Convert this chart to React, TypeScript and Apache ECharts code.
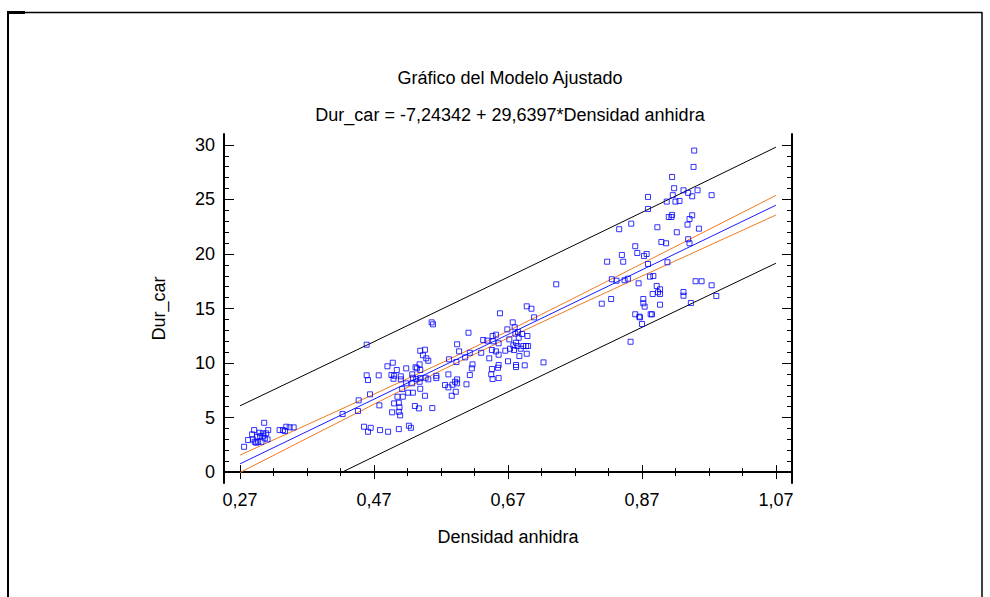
import React, { useEffect, useRef } from "react";
import * as echarts from "echarts";

// Fitted model: Dur_car = INTERCEPT + SLOPE * Densidad anhidra
const INTERCEPT = -7.24342;
const SLOPE = 29.6397;

// Axis ranges and tick positions
const X_MIN = 0.246;
const X_MAX = 1.094;
const Y_MIN = -1;
const Y_MAX = 31;
const X_MAJOR = [0.27, 0.47, 0.67, 0.87, 1.07];
const X_MINOR = [0.32, 0.37, 0.42, 0.52, 0.57, 0.62, 0.72, 0.77, 0.82, 0.92, 0.97, 1.02];
const Y_MAJOR = [0, 5, 10, 15, 20, 25, 30];
const Y_MINOR = [1, 2, 3, 4, 6, 7, 8, 9, 11, 12, 13, 14, 16, 17, 18, 19, 21, 22, 23, 24, 26, 27, 28, 29];

// Band half-widths (confidence for the mean, prediction for new observations)
const BAND_X = [0.27, 0.37, 0.47, 0.57, 0.67, 0.77, 0.87, 0.97, 1.07];
const CONF_HW = [0.8, 0.62, 0.46, 0.34, 0.32, 0.42, 0.57, 0.74, 0.9];
const PRED_HW = [5.32, 5.29, 5.27, 5.26, 5.26, 5.26, 5.27, 5.29, 5.32];

// Observations: [Densidad anhidra, Dur_car]
const OBS_LOW: number[][] = [
  [0.306, 4.52], [0.291, 3.85], [0.288, 3.46], [0.299, 3.61], [0.304, 3.55], [0.309, 3.55],
  [0.312, 3.85], [0.295, 3.24], [0.3, 3.3], [0.305, 3.33], [0.307, 3.09], [0.289, 3.0],
  [0.292, 2.78], [0.297, 2.78], [0.302, 2.78], [0.311, 3.0], [0.282, 2.94], [0.276, 2.32],
  [0.294, 2.69], [0.329, 3.85], [0.334, 3.85], [0.337, 3.76], [0.339, 4.16], [0.344, 4.1],
  [0.35, 4.1], [0.423, 5.32],
];

const OBS_MID_A: number[][] = [
  [0.459, 11.68], [0.556, 13.73], [0.558, 13.55], [0.611, 12.78], [0.594, 11.72], [0.539, 11.13],
  [0.546, 11.22], [0.543, 10.71], [0.548, 10.43], [0.551, 10.21], [0.597, 11.07], [0.582, 10.34],
  [0.593, 10.09], [0.606, 10.52], [0.613, 10.94], [0.498, 10.03], [0.49, 9.7], [0.504, 9.36],
  [0.518, 9.51], [0.532, 9.61], [0.538, 9.88], [0.534, 9.51], [0.539, 9.36], [0.459, 8.87],
  [0.477, 8.87], [0.496, 8.9], [0.5, 8.83], [0.499, 8.56], [0.51, 8.78], [0.51, 8.5],
  [0.527, 8.96], [0.528, 8.65], [0.533, 8.53], [0.539, 8.62], [0.547, 8.65], [0.551, 8.5],
  [0.563, 8.83], [0.563, 8.62], [0.581, 8.96], [0.461, 8.44], [0.518, 8.14], [0.527, 8.14],
  [0.538, 8.28], [0.576, 7.98], [0.581, 7.77], [0.587, 8.01], [0.591, 8.28], [0.594, 8.5],
  [0.594, 8.14], [0.608, 8.05], [0.613, 8.9], [0.616, 9.51], [0.617, 9.88], [0.512, 7.61],
  [0.539, 7.64], [0.592, 7.37], [0.586, 7.0], [0.464, 7.13], [0.447, 6.58], [0.505, 6.91],
  [0.513, 6.91], [0.521, 7.28], [0.528, 7.28], [0.546, 7.0], [0.5, 6.3], [0.478, 6.12],
  [0.507, 6.36], [0.531, 6.06], [0.537, 5.84], [0.557, 5.87], [0.508, 5.94], [0.507, 5.53],
  [0.497, 5.48], [0.509, 5.2], [0.446, 5.6], [0.455, 4.16], [0.461, 3.7], [0.465, 4.06],
  [0.479, 3.85], [0.491, 3.7], [0.507, 3.94], [0.522, 4.25], [0.525, 4.06],
];

const OBS_MID_B: number[][] = [
  [0.742, 17.22], [0.658, 14.56], [0.698, 15.2], [0.705, 14.98], [0.709, 14.19], [0.677, 13.73],
  [0.68, 13.28], [0.669, 13.09], [0.685, 12.84], [0.691, 12.66], [0.681, 12.69], [0.647, 12.48],
  [0.652, 12.6], [0.699, 12.48], [0.633, 12.11], [0.639, 12.05], [0.648, 11.99], [0.656, 11.81],
  [0.672, 12.17], [0.686, 12.32], [0.682, 11.86], [0.678, 11.62], [0.684, 11.56], [0.693, 11.56],
  [0.697, 11.56], [0.7, 11.56], [0.673, 11.31], [0.679, 11.19], [0.689, 11.31], [0.666, 11.13],
  [0.646, 11.19], [0.652, 11.07], [0.63, 10.94], [0.656, 10.76], [0.698, 10.85], [0.687, 10.64],
  [0.642, 10.43], [0.67, 10.16], [0.723, 10.06], [0.682, 9.82], [0.682, 9.63], [0.695, 9.79],
  [0.656, 9.82], [0.655, 9.57], [0.646, 9.45], [0.645, 8.96], [0.656, 8.62], [0.647, 8.53],
];

const OBS_HIGH: number[][] = [
  [0.948, 29.48], [0.947, 27.98], [0.915, 27.06], [0.918, 26.03], [0.879, 25.23], [0.916, 25.39],
  [0.907, 24.8], [0.92, 24.8], [0.926, 24.86], [0.932, 25.84], [0.939, 25.6], [0.945, 25.29],
  [0.953, 25.84], [0.974, 25.39], [0.879, 24.13], [0.91, 23.39], [0.915, 23.58], [0.914, 23.39],
  [0.941, 23.21], [0.945, 23.55], [0.938, 22.69], [0.955, 22.32], [0.854, 22.78], [0.836, 22.27],
  [0.893, 22.45], [0.922, 21.99], [0.939, 21.35], [0.941, 20.98], [0.899, 21.1], [0.906, 20.98],
  [0.86, 20.71], [0.863, 20.09], [0.873, 19.82], [0.877, 20.0], [0.84, 19.91], [0.818, 19.29],
  [0.842, 19.29], [0.879, 19.08], [0.908, 19.24], [0.882, 17.92], [0.887, 17.98], [0.865, 17.31],
  [0.825, 17.68], [0.832, 17.55], [0.844, 17.59], [0.849, 17.73], [0.892, 17.06], [0.897, 16.76],
  [0.894, 16.49], [0.897, 16.33], [0.886, 16.33], [0.95, 17.5], [0.959, 17.5], [0.974, 17.13],
  [0.932, 16.51], [0.932, 16.17], [0.981, 16.15], [0.943, 15.5], [0.81, 15.44], [0.824, 15.87],
  [0.872, 15.87], [0.872, 15.48], [0.874, 15.17], [0.897, 15.35], [0.86, 14.47], [0.866, 14.25],
  [0.867, 14.19], [0.883, 14.47], [0.885, 14.47], [0.87, 13.58], [0.853, 11.95],
];

const TITLE = "Gráfico del Modelo Ajustado";
const SUBTITLE = "Dur_car = -7,24342 + 29,6397*Densidad anhidra";
const X_NAME = "Densidad anhidra";
const Y_NAME = "Dur_car";

const FONT = '"Liberation Sans", Arial, sans-serif';

const fit = (x: number) => INTERCEPT + SLOPE * x;

function bandLine(hw: number[], sign: number): number[][] {
  return BAND_X.map((x, i) => [x, fit(x) + sign * hw[i]]);
}

// Lower prediction limit is drawn only above zero
function clippedAtZero(pts: number[][]): number[][] {
  const out: number[][] = [];
  for (let i = 0; i < pts.length; i++) {
    const [x, y] = pts[i];
    if (y >= 0) {
      if (i > 0 && pts[i - 1][1] < 0) {
        const [x0, y0] = pts[i - 1];
        const t = -y0 / (y - y0);
        out.push([x0 + t * (x - x0), 0]);
      }
      out.push([x, y]);
    }
  }
  return out;
}

const fmtX = (v: number) => v.toFixed(2).replace(".", ",");

export default function App() {
  const ref = useRef<HTMLDivElement>(null);

  useEffect(() => {
    if (!ref.current) return;
    const chart = echarts.init(ref.current, undefined, { renderer: "svg" });

    const labelStyle = { fontSize: 18, color: "#000", fontFamily: FONT };
    const frameLine = { show: true, lineStyle: { color: "#000", width: 2 } };

    const xAxisBase = {
      type: "value" as const,
      min: X_MIN,
      max: X_MAX,
      splitLine: { show: false },
    };
    const yAxisBase = {
      type: "value" as const,
      min: Y_MIN,
      max: Y_MAX,
      splitLine: { show: false },
    };

    const lineSeries = (data: number[][], color: string) => ({
      type: "line",
      data,
      xAxisIndex: 0,
      yAxisIndex: 0,
      showSymbol: false,
      symbol: "none",
      lineStyle: { color, width: 1 },
      silent: true,
      z: 3,
    });

    const fitLine = [X_MAJOR[0], X_MAJOR[X_MAJOR.length - 1]].map((x) => [x, fit(x)]);

    chart.setOption({
      animation: false,
      backgroundColor: "#fff",
      grid: { left: 224, top: 134, width: 568, height: 349, containLabel: false },
      xAxis: [
        {
          ...xAxisBase,
          position: "bottom",
          axisLine: frameLine,
          axisTick: { show: true, inside: true, length: 7, customValues: X_MAJOR, lineStyle: { color: "#000", width: 1 } },
          axisLabel: { ...labelStyle, margin: 8, customValues: X_MAJOR, formatter: fmtX },
          name: X_NAME,
          nameLocation: "middle",
          nameGap: 45,
          nameTextStyle: { fontSize: 18, color: "#000", fontFamily: FONT },
        },
        {
          ...xAxisBase,
          position: "bottom",
          axisLine: { show: false },
          axisTick: { show: true, inside: true, length: 4, customValues: X_MINOR, lineStyle: { color: "#000", width: 1 } },
          axisLabel: { show: false },
        },
        {
          ...xAxisBase,
          position: "top",
          axisLine: frameLine,
          axisTick: { show: true, inside: true, length: 7, customValues: X_MAJOR, lineStyle: { color: "#000", width: 1 } },
          axisLabel: { show: false },
        },
        {
          ...xAxisBase,
          position: "top",
          axisLine: { show: false },
          axisTick: { show: true, inside: true, length: 4, customValues: X_MINOR, lineStyle: { color: "#000", width: 1 } },
          axisLabel: { show: false },
        },
      ],
      yAxis: [
        {
          ...yAxisBase,
          position: "left",
          axisLine: frameLine,
          axisTick: { show: true, inside: true, length: 10, customValues: Y_MAJOR, lineStyle: { color: "#000", width: 1 } },
          axisLabel: { ...labelStyle, margin: 9, customValues: Y_MAJOR },
          name: Y_NAME,
          nameLocation: "middle",
          nameGap: 56,
          nameTextStyle: { fontSize: 18, color: "#000", fontFamily: FONT },
        },
        {
          ...yAxisBase,
          position: "left",
          axisLine: { show: false },
          axisTick: { show: true, inside: true, length: 5, customValues: Y_MINOR, lineStyle: { color: "#000", width: 1 } },
          axisLabel: { show: false },
        },
        {
          ...yAxisBase,
          position: "right",
          axisLine: frameLine,
          axisTick: { show: true, inside: true, length: 10, customValues: Y_MAJOR, lineStyle: { color: "#000", width: 1 } },
          axisLabel: { show: false },
        },
        {
          ...yAxisBase,
          position: "right",
          axisLine: { show: false },
          axisTick: { show: true, inside: true, length: 5, customValues: Y_MINOR, lineStyle: { color: "#000", width: 1 } },
          axisLabel: { show: false },
        },
      ],
      series: [
        lineSeries(bandLine(PRED_HW, 1), "#000000"),
        lineSeries(clippedAtZero(bandLine(PRED_HW, -1)), "#000000"),
        lineSeries(bandLine(CONF_HW, 1), "#f07b1e"),
        lineSeries(bandLine(CONF_HW, -1), "#f07b1e"),
        lineSeries(fitLine, "#1a1aff"),
        {
          type: "scatter",
          data: [...OBS_LOW, ...OBS_MID_A, ...OBS_MID_B, ...OBS_HIGH],
          xAxisIndex: 0,
          yAxisIndex: 0,
          symbol: "rect",
          symbolSize: 5,
          itemStyle: { color: "rgba(255,255,255,0)", borderColor: "#0000ff", borderWidth: 1 },
          silent: true,
          z: 4,
        },
      ],
      graphic: [
        { type: "rect", shape: { x: 7, y: 11, width: 18, height: 3 }, style: { fill: "#000" } },
        { type: "line", shape: { x1: 8, y1: 12.5, x2: 982, y2: 12.5 }, style: { stroke: "#000", lineWidth: 1.5 } },
        { type: "line", shape: { x1: 8, y1: 12, x2: 8, y2: 597 }, style: { stroke: "#000", lineWidth: 2 } },
        { type: "line", shape: { x1: 982, y1: 12, x2: 982, y2: 597 }, style: { stroke: "#000", lineWidth: 1.5 } },
        {
          type: "text",
          x: 510,
          y: 78,
          style: { text: TITLE, fill: "#000", font: `18px ${FONT}`, textAlign: "center", textVerticalAlign: "middle" },
        },
        {
          type: "text",
          x: 510,
          y: 115,
          style: { text: SUBTITLE, fill: "#000", font: `18px ${FONT}`, textAlign: "center", textVerticalAlign: "middle" },
        },
      ],
    });

    return () => chart.dispose();
  }, []);

  return (
    <div
      ref={ref}
      style={{ position: "fixed", left: 0, top: 0, width: 990, height: 597, background: "#fff" }}
    />
  );
}
